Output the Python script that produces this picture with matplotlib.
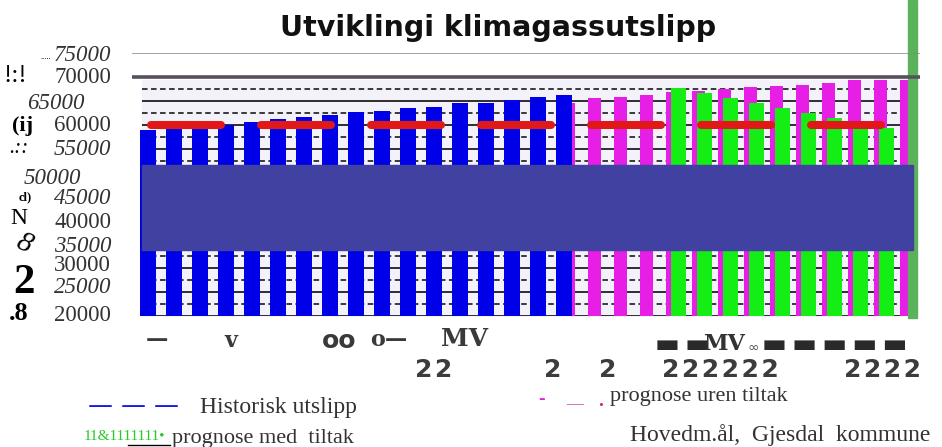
import matplotlib
matplotlib.use("Agg")
import matplotlib.pyplot as plt
from matplotlib.patches import Rectangle
from matplotlib.lines import Line2D
from matplotlib.transforms import ScaledTranslation

plt.rcParams['lines.scale_dashes'] = False

# data
aar = list(range(1991, 2021))
historisk = [58900, 59500, 59600, 60000, 60650, 61150, 61570, 62050, 62600,
             62950, 63450, 63800, 64500, 64600, 65200, 65750, 66200]
uten_tiltak = [64600, 65600, 65800, 66200, 66800, 67100, 67400, 67800,
               68000, 68400, 68800, 69400, 69400, 69400]
med_tiltak = [67700, 66650, 65600, 64560, 63500, 62470, 61420, 60380, 59330]
maal = 60000
ytick_vals = [75000, 70000, 65000, 60000, 55000, 50000,
              45000, 40000, 35000, 30000, 25000, 20000]
ytick_txt = ['75000', '70000', '65000', '60000', '55000', '50000',
             '45000', '40000', '35000', '30000', '25000', '20000']

W, H = 942, 447
fig = plt.figure(figsize=(W / 100, H / 100), dpi=100)
ax = fig.add_axes([132 / W, 131 / H, 788 / W, 263 / H])

def px(p):
    # pixel column -> slot coordinate
    return (p - 148) / 26

ax.set_xlim(px(132), px(920))
ax.set_ylim(20000, 75000)
for s in ax.spines.values():
    s.set_visible(False)
ax.set_xticks([])

# plot background + grid
x0, x1 = px(142), px(905)
ax.fill_between([x0, x1], 20000, 69400, color='#f3f1f9', zorder=0)
for v in range(20000, 69000, 2500):
    if v % 5000 == 0:
        ax.hlines(v, x0, x1, color='#2e2e2e', lw=1.4, zorder=1)
    else:
        ax.hlines(v, x0, x1, color='#3a3a3a', lw=1.4, linestyles=(0, (4, 2.5)), zorder=1)

ax.axhline(75000, color='#8a8a8a', lw=1.1, zorder=4)
ax.axhline(70000, color='#585060', lw=2.6, zorder=4)

n_hist = len(historisk)
i_uten = list(range(n_hist - 1, n_hist - 1 + len(uten_tiltak)))
i_med = list(range(20, 20 + len(med_tiltak)))

ax.bar([i + 0.17 for i in i_uten], uten_tiltak, width=0.5, color='#e61ee6', zorder=2)
ax.bar(range(n_hist), historisk, width=0.58, color='#0000e8', zorder=3)
ax.bar([i + 0.4 for i in i_med], med_tiltak, width=0.6, color='#14ee14', zorder=3)

# target line
ax.plot([px(151), px(905)], [maal, maal], color='#e01818', lw=5.8,
        dashes=(50.4, 28.8), dash_capstyle='round', zorder=4)

# covering box and stray edge bar
ax.axhspan(33800, 51600, xmin=10 / 788, xmax=781 / 788, color='#4141a1', zorder=6)
ax.add_patch(Rectangle((908 / W, 129 / H), 9 / W, 318 / H, transform=fig.transFigure,
                       color='#5ab25a', clip_on=False, zorder=3.5))

# y tick labels
ax.set_yticks(ytick_vals)
ax.set_yticklabels(ytick_txt)
ax.tick_params(axis='y', length=0, pad=15)
italic = {'75000', '65000', '55000', '50000', '45000', '35000', '25000'}
shift = {'70000': (0, 2), '65000': (-27, 0), '60000': (0, 2), '55000': (0, 2),
         '50000': (-30, -3), '30000': (0, 5), '25000': (0, 7), '20000': (0, 3)}
for lbl in ax.get_yticklabels():
    t = lbl.get_text()
    lbl.set_fontfamily('Liberation Serif')
    lbl.set_fontsize(16.5)
    lbl.set_color('#333333')
    if t in italic:
        lbl.set_fontstyle('italic')
    dx, dy = shift.get(t, (0, 0))
    lbl.set_transform(lbl.get_transform() + ScaledTranslation(dx / 100, dy / 100, fig.dpi_scale_trans))

def ftext(x, y, s, **kw):
    fig.text(x / W, 1 - y / H, s, **kw)

serif = 'Liberation Serif'
ftext(40, 57, '.....', fontsize=6, family=serif, va='center')
ftext(3, 76, '!:!', fontsize=18, family=serif, va='center')
ftext(12, 126, '(ij', fontsize=16, family=serif, weight='bold', va='center')
ftext(9, 149, '.::', fontsize=15, family=serif, style='italic', va='center')
ftext(19, 197, 'cl)', fontsize=9, family=serif, weight='bold', va='center')
ftext(10, 218, 'N', fontsize=17, family=serif, va='center')
ftext(12, 244, '8', fontsize=21, family=serif, style='italic', va='center', rotation=-25)
ftext(13, 283, '2', fontsize=31, family=serif, weight='bold', va='center')
ftext(9, 314, '.8', fontsize=19, family=serif, weight='bold', va='center')

# title
ftext(498, 28, 'Utviklingi klimagassutslipp', fontsize=20.5, weight='bold',
      family='DejaVu Sans', ha='center', va='center', color='#111111')

# garbled x labels
g = dict(fontsize=16, family='DejaVu Serif', weight='bold', color='#3a3a3a', va='center', ha='center')
ftext(157, 340, '\u2014', **g)
ftext(231, 341, 'v', **g)
ftext(339, 341, 'oo', fontsize=18, family='DejaVu Sans', weight='bold',
      color='#3a3a3a', va='center', ha='center')
ftext(389, 340, 'o\u2014', **g)
ftext(465, 339, 'MV', fontsize=18, family='DejaVu Serif', weight='bold',
      color='#3a3a3a', va='center', ha='center')
sp = '\u2009'
b = dict(fontsize=19, family='DejaVu Sans', color='#2a2a2a', va='center')
ftext(655, 345, sp.join('\u25ac\u25ac'), ha='left', **b)
ftext(907, 345, sp.join('\u25ac\u25ac\u25ac\u25ac\u25ac'), ha='right', **b)
ftext(724, 344, 'MV', fontsize=16, family='DejaVu Serif', weight='bold',
      color='#333333', ha='center', va='center')
ftext(753, 348, '\u221e', fontsize=10, family='DejaVu Sans', color='#555555',
      ha='center', va='center')
d = dict(fontsize=18, family='DejaVu Sans', weight='bold', color='#3c3c3c', va='center', ha='center')
ts = '\u200a'
ftext(434, 370, ts.join('22'), **d)
ftext(553, 370, '2', **d)
ftext(608, 370, '2', **d)
ftext(720, 370, ts.join('222222'), **d)
ftext(883, 370, ts.join('2222'), **d)

# legend-like texts
ftext(88, 406, '\u2014 \u2014 \u2014', fontsize=18, family='DejaVu Sans', color='#1a1ae6', va='center')
ftext(200, 408, 'Historisk utslipp', fontsize=17, family=serif, color='#333333', va='center')
ftext(538, 399, '-', fontsize=14, family=serif, color='#e01ee0', va='center', weight='bold')
ftext(566, 399, '__', fontsize=13, family=serif, color='#d04cb0', va='center')
ftext(598, 401, '.', fontsize=14, family=serif, color='#e0205a', va='center', weight='bold')
ftext(610, 396, 'prognose uren tiltak', fontsize=16, family=serif, color='#333333', va='center')
ftext(84, 437, '11&1111111\u2022', fontsize=11, family=serif, color='#22cc22', va='center')
fig.add_artist(Line2D([128 / W, 170 / W], [1 - 445 / H, 1 - 445 / H], color='#000000',
                      lw=1.0, transform=fig.transFigure))
ftext(172, 438, 'prognose med  tiltak', fontsize=16, family=serif, color='#333333', va='center')
ftext(630, 435, 'Hovedm.\u00e5l,  Gjesdal  kommune', fontsize=17, family=serif, color='#333333', va='center')

plt.savefig('out.png', dpi=100)
